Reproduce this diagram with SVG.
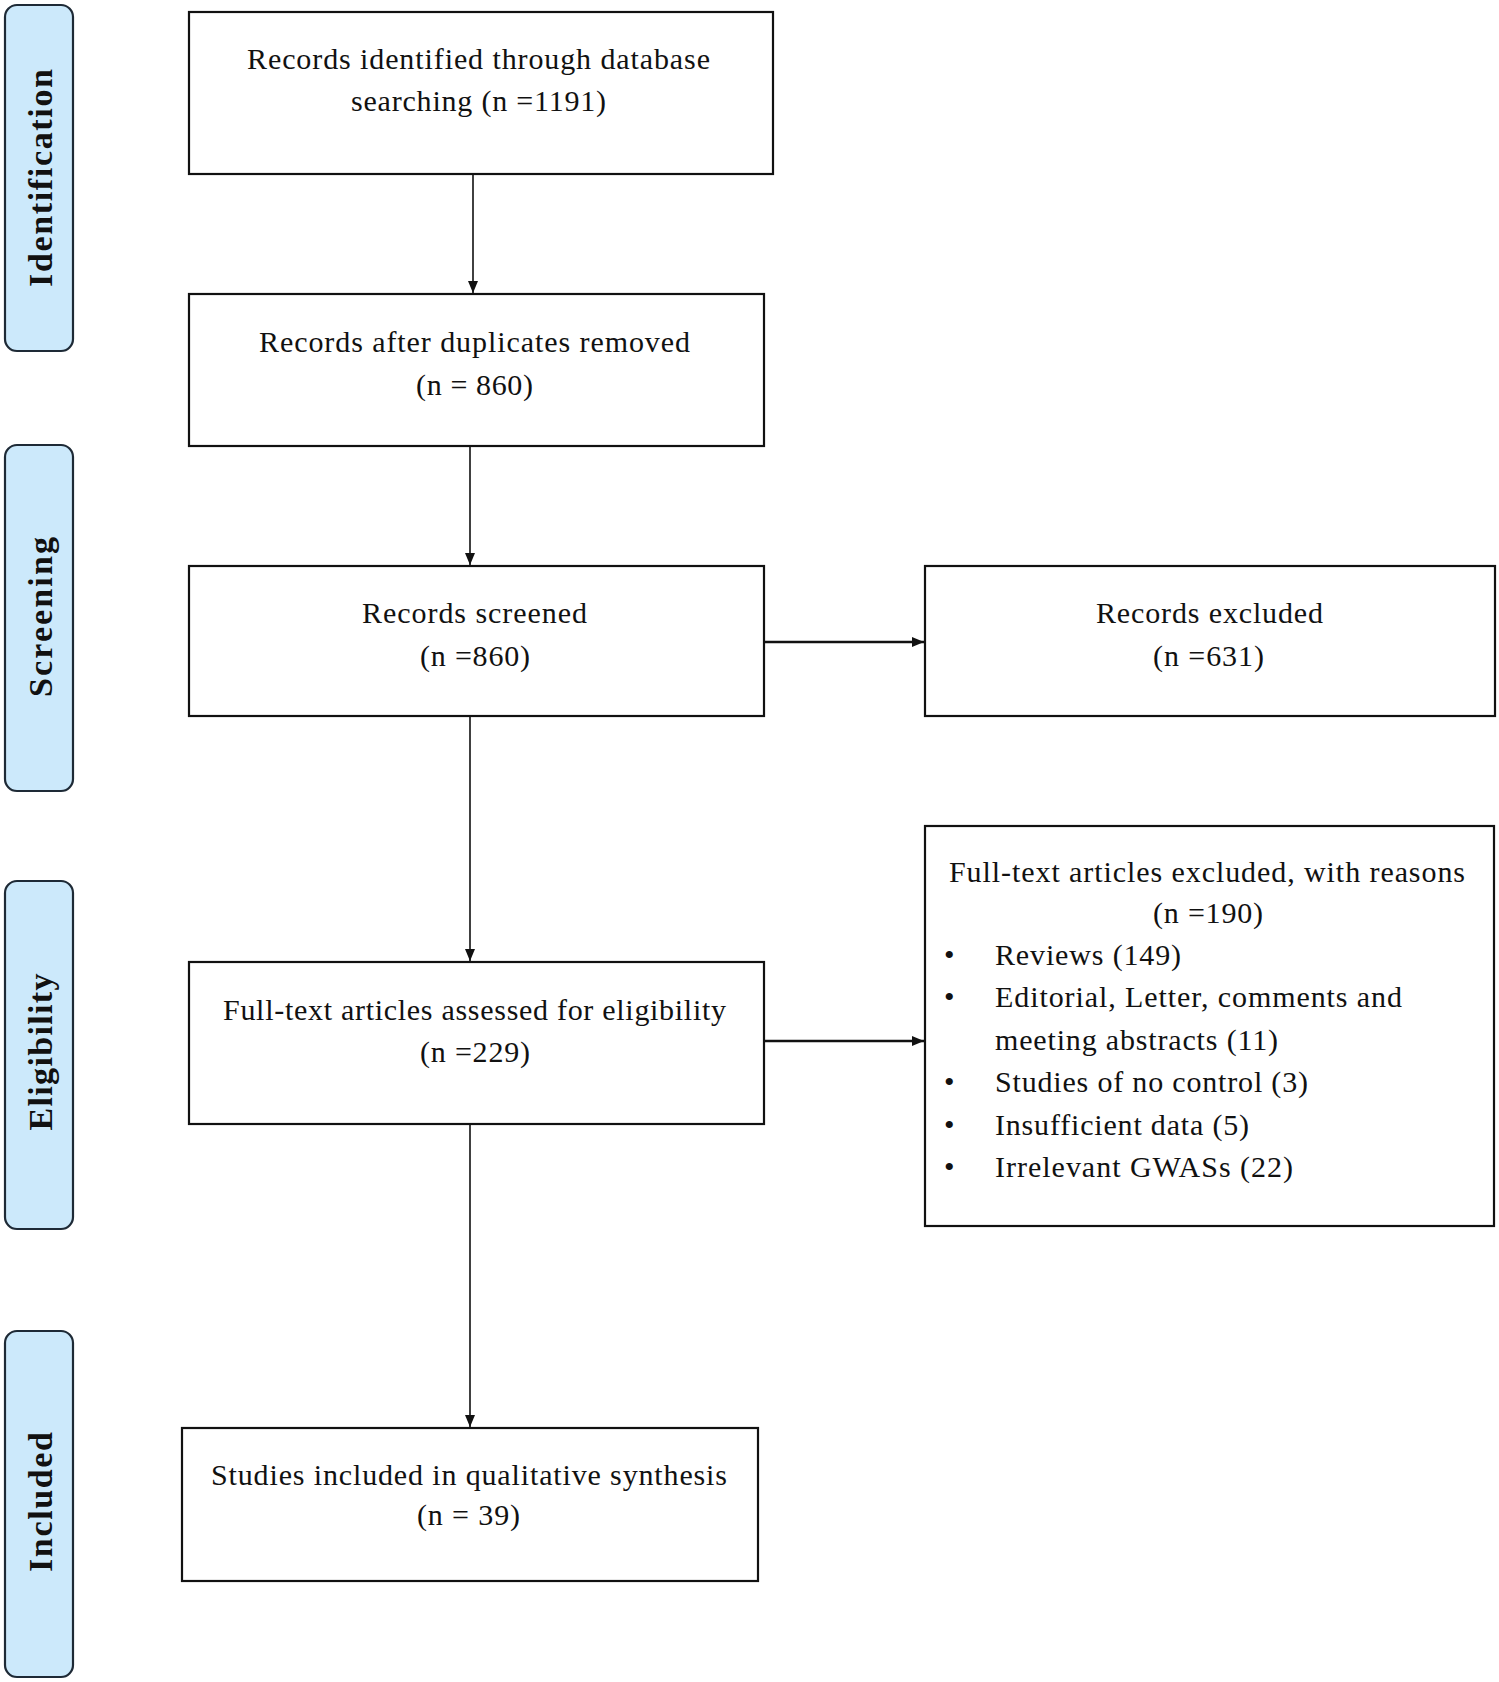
<svg xmlns="http://www.w3.org/2000/svg" width="1499" height="1682" viewBox="0 0 1499 1682">
<style>
.bg{fill:#ffffff}
.lab{fill:#cce9fb;stroke:#1e2a36;stroke-width:2.2}
.box{fill:#ffffff;stroke:#111111;stroke-width:2.2}
.t{font-family:"Liberation Serif","Times New Roman",serif;font-size:30px;fill:#111111}
.lt{font-family:"Liberation Serif","Times New Roman",serif;font-size:34px;font-weight:bold;fill:#111111;text-anchor:middle}
.c{stroke:#111111;stroke-width:1.6;fill:none}
.c2{stroke:#111111;stroke-width:2.6;fill:none}
</style>
<defs>
<marker id="ah" viewBox="0 0 12 12" refX="12" refY="6" markerWidth="12" markerHeight="12" markerUnits="userSpaceOnUse" orient="auto">
<path d="M0,1 L12,6 L0,11 Z" fill="#111111"/>
</marker>
</defs>
<rect class="bg" x="0" y="0" width="1499" height="1682"/>

<g id="stage-identification">
<rect class="lab" x="5" y="5" width="68" height="346" rx="12"/>
<text class="lt" transform="translate(52,178) rotate(-90)" textLength="218" lengthAdjust="spacing">Identification</text>
</g>
<g id="stage-screening">
<rect class="lab" x="5" y="445" width="68" height="346" rx="12"/>
<text class="lt" transform="translate(52,617) rotate(-90)" textLength="160" lengthAdjust="spacing">Screening</text>
</g>
<g id="stage-eligibility">
<rect class="lab" x="5" y="881" width="68" height="348" rx="12"/>
<text class="lt" transform="translate(52,1052) rotate(-90)" textLength="157" lengthAdjust="spacing">Eligibility</text>
</g>
<g id="stage-included">
<rect class="lab" x="5" y="1331" width="68" height="346" rx="12"/>
<text class="lt" transform="translate(52,1502) rotate(-90)" textLength="140" lengthAdjust="spacing">Included</text>
</g>

<g id="connectors">
<line class="c" x1="473" y1="174" x2="473" y2="293" marker-end="url(#ah)"/>
<line class="c" x1="470" y1="446" x2="470" y2="565" marker-end="url(#ah)"/>
<line class="c" x1="470" y1="716" x2="470" y2="961" marker-end="url(#ah)"/>
<line class="c" x1="470" y1="1124" x2="470" y2="1427" marker-end="url(#ah)"/>
<line class="c2" x1="764" y1="642" x2="924" y2="642" marker-end="url(#ah)"/>
<line class="c2" x1="764" y1="1041" x2="924" y2="1041" marker-end="url(#ah)"/>
</g>

<g id="node-identified">
<rect class="box" x="189" y="12" width="584" height="162"/>
<text class="t" x="247" y="69" textLength="463" lengthAdjust="spacing">Records identified through database</text>
<text class="t" x="351" y="111" textLength="255" lengthAdjust="spacing">searching (n =1191)</text>
</g>
<g id="node-duplicates">
<rect class="box" x="189" y="294" width="575" height="152"/>
<text class="t" x="259" y="352" textLength="431" lengthAdjust="spacing">Records after duplicates removed</text>
<text class="t" x="416" y="395" textLength="117" lengthAdjust="spacing">(n = 860)</text>
</g>
<g id="node-screened">
<rect class="box" x="189" y="566" width="575" height="150"/>
<text class="t" x="362" y="623" textLength="225" lengthAdjust="spacing">Records screened</text>
<text class="t" x="420" y="666" textLength="110" lengthAdjust="spacing">(n =860)</text>
</g>
<g id="node-excluded">
<rect class="box" x="925" y="566" width="570" height="150"/>
<text class="t" x="1096" y="623" textLength="227" lengthAdjust="spacing">Records excluded</text>
<text class="t" x="1153" y="666" textLength="111" lengthAdjust="spacing">(n =631)</text>
</g>
<g id="node-fulltext">
<rect class="box" x="189" y="962" width="575" height="162"/>
<text class="t" x="223" y="1020" textLength="503" lengthAdjust="spacing">Full-text articles assessed for eligibility</text>
<text class="t" x="420" y="1062" textLength="110" lengthAdjust="spacing">(n =229)</text>
</g>
<g id="node-fulltext-excluded">
<rect class="box" x="925" y="826" width="569" height="400"/>
<text class="t" x="949" y="882" textLength="516" lengthAdjust="spacing">Full-text articles excluded, with reasons</text>
<text class="t" x="1153" y="923" textLength="110" lengthAdjust="spacing">(n =190)</text>
<text class="t" x="944" y="965">•</text>
<text class="t" x="995" y="965" textLength="186" lengthAdjust="spacing">Reviews (149)</text>
<text class="t" x="944" y="1007">•</text>
<text class="t" x="995" y="1007" textLength="407" lengthAdjust="spacing">Editorial, Letter, comments and</text>
<text class="t" x="995" y="1050" textLength="283" lengthAdjust="spacing">meeting abstracts (11)</text>
<text class="t" x="944" y="1092">•</text>
<text class="t" x="995" y="1092" textLength="313" lengthAdjust="spacing">Studies of no control (3)</text>
<text class="t" x="944" y="1135">•</text>
<text class="t" x="995" y="1135" textLength="254" lengthAdjust="spacing">Insufficient data (5)</text>
<text class="t" x="944" y="1177">•</text>
<text class="t" x="995" y="1177" textLength="298" lengthAdjust="spacing">Irrelevant GWASs (22)</text>
</g>
<g id="node-included">
<rect class="box" x="182" y="1428" width="576" height="153"/>
<text class="t" x="211" y="1485" textLength="516" lengthAdjust="spacing">Studies included in qualitative synthesis</text>
<text class="t" x="417" y="1525" textLength="103" lengthAdjust="spacing">(n = 39)</text>
</g>
</svg>
